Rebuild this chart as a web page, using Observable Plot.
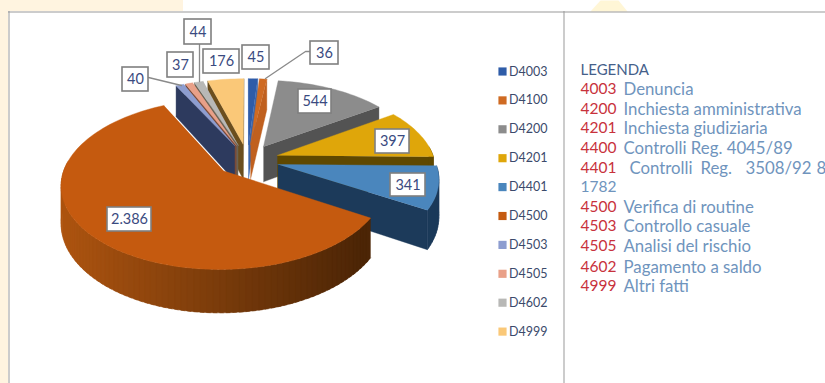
<!DOCTYPE html>
<html><head><meta charset="utf-8">
<style>html,body{margin:0;padding:0;background:#fff;overflow:hidden}svg{display:block}</style>
<script src="https://cdn.jsdelivr.net/npm/d3@7"></script>
<script src="https://cdn.jsdelivr.net/npm/@observablehq/plot@0.6"></script>
</head><body><div id="chart"></div>
<script>
// Data
const codes  = ["D4003","D4100","D4200","D4201","D4401","D4500","D4503","D4505","D4602","D4999"];
const values = [45,36,544,397,341,2386,40,37,44,176];
const topColors  = ["#2f5ca8","#cf6a22","#8c8c8c","#dfa60a","#4a86bd","#c55a0f","#8d9dd0","#e9a088","#b8b8b6","#fac878"];
const wallColors = ["#3a66ad","#c0601f","#535353","#5f4800","#1c3a5a","#8a4409","#2d3a5e","#7a4a38","#6b6355","#6b4e1e"];
// label boxes [x1,y1,x2,y2], moved by hand in the original
const labelBoxes = [[242,45,269,69],[310,41,338,64],[298,89,331,113],[375,129,409,153],[390,173,425,196],
  [107,207,151,231],[122,67,148,91],[167,52,193,77],[184,19,211,44],[203,49,239,73]];
const leaders = [
  {id:"40",pts:[[148,77],[181,85]]},
  {id:"44",pts:[[199,44],[199,81]]},
  {id:"36",pts:[[310,51],[305,51],[265,78]]}
];
const legendHeader = "LEGENDA";
const legendCodes = ["4003","4200","4201","4400","4401","4500","4503","4505","4602","4999"];
const legendTexts = ["Denuncia","Inchiesta amministrativa","Inchiesta giudiziaria","Controlli Reg. 4045/89","",
  "Verifica di routine","Controllo casuale","Analisi del rischio","Pagamento a saldo","Altri fatti"];
const legendY = [89,109,128,148,168,207,226,246,267,286];
const justifiedWords = [["Controlli",629],["Reg.",700],["3508/92",745],["8",816]];
const wrappedLine = "1782";

// Pie geometry (values -> angles -> perspective projection)
const cx=247, cy=159.5, A=157, B=80, k=0.15, depth=36, explode=0.2;
const total = d3.sum(values);
const rad = d=>d*Math.PI/180;
const proj = (X,Y,z)=>{const den=1+k*Y; return [cx+A*X/den, cy-B*Y/den+depth*z/den];};
let cum=0;
const slices = values.map((v,i)=>{
  const a0=cum/total*360; cum+=v; const a1=cum/total*360; const m=rad((a0+a1)/2);
  return {i,a0,a1,ox:explode*Math.sin(m),oy:explode*Math.cos(m),order:Math.cos(m)};
});
const faces=[]; let fid=0;
const addFace=(pts,color)=>{const id=fid++; pts.forEach(p=>faces.push({x:p[0],y:p[1],face:id,color}));};
const shade=d3.interpolateRgb("#ad5410","#4c2506");
[...slices].sort((a,b)=>b.order-a.order).forEach(s=>{
  const P=(deg,z,r=1)=>proj(s.ox+r*Math.sin(rad(deg)),s.oy+r*Math.cos(rad(deg)),z);
  const apex0=P(0,0,0), apex1=P(0,1,0), color=wallColors[s.i];
  // radial walls
  const o0=P(s.a0,0), o1=P(s.a1,0);
  if(o0[0]<apex0[0]) addFace([apex0,o0,P(s.a0,1),apex1],color);
  if(o1[0]>apex0[0]) addFace([apex0,o1,P(s.a1,1),apex1],color);
  // outer wall, front-facing part only; drawn from the far end so each strip overlaps the last
  const n=Math.max(2,Math.ceil((s.a1-s.a0)/2));
  for(let j=n-1;j>=0;j--){
    const b0=s.a0+(s.a1-s.a0)*j/n,b1=s.a0+(s.a1-s.a0)*(j+1)/n,mid=(b0+b1)/2;
    if(Math.cos(rad(mid))<0.12){
      const c = s.i===5 ? shade(Math.min(1,Math.max(0,((P(mid,0)[0]-64)/300)))) : color;
      const b2=Math.min(s.a1,b1+1.2);
      addFace([P(b0,0),P(b1,0),P(b2,0),P(b2,1),P(b1,1),P(b0,1)],c);
    }
  }
  // top
  const top=[apex0]; for(let j=0;j<=n;j++) top.push(P(s.a0+(s.a1-s.a0)*j/n,0));
  addFace(top,topColors[s.i]);
});

const fmt=d3.formatLocale({decimal:",",thousands:".",grouping:[3],currency:["",""]}).format(",");
const boxes=values.map((v,i)=>({x1:labelBoxes[i][0],y1:labelBoxes[i][1],x2:labelBoxes[i][2],y2:labelBoxes[i][3],t:fmt(v)}));
const leaderPts=leaders.flatMap(l=>l.pts.map(p=>({id:l.id,x:p[0],y:p[1]})));
const legendRows=codes.map((c,i)=>({c,color:topColors[i],y:71+i*28.9}));
const right=legendCodes.map((c,i)=>({c,t:legendTexts[i],y:legendY[i]}));
const FONT="Lato";
const cream="#fff4e0";
const bgRects=[{x1:0,x2:8,y1:0,y2:383,f:cream},{x1:0,x2:183,y1:0,y2:11,f:cream}];

const plot=Plot.plot({
  width:825,height:383,margin:0,
  x:{domain:[0,825],range:[0,825],axis:null},
  y:{domain:[0,383],range:[0,383],axis:null},
  style:{fontFamily:FONT,background:"#fff"},
  marks:[
    Plot.rect(bgRects,{x1:"x1",x2:"x2",y1:"y1",y2:"y2",fill:"f"}),
    Plot.line([[600,0],[618,0],[627,11],[590,11]].map(p=>({x:p[0],y:p[1]})),{x:"x",y:"y",fill:"#fff6d6",stroke:"none"}),
    Plot.ruleY([11.5],{x1:8,x2:825,stroke:"#999",strokeWidth:1}),
    Plot.ruleX([8.5],{y1:11,y2:383,stroke:"#999",strokeWidth:1}),
    Plot.ruleX([563.5],{y1:11,y2:383,stroke:"#999",strokeWidth:1}),
    Plot.line(faces,{x:"x",y:"y",z:"face",fill:"color",stroke:"color",strokeWidth:0.4,strokeLinejoin:"round"}),
    Plot.line(leaderPts,{x:"x",y:"y",z:"id",stroke:"#8a8a8a",strokeWidth:1.3}),
    Plot.rect(boxes,{x1:"x1",x2:"x2",y1:"y1",y2:"y2",fill:"#fff",stroke:"#7f7f7f",strokeWidth:1.6}),
    Plot.text(boxes,{x:d=>(d.x1+d.x2)/2,y:d=>(d.y1+d.y2)/2,text:"t",fill:"#3a4a80",fontSize:14.5}),
    // series legend
    Plot.dot(legendRows,{x:()=>502,y:"y",symbol:"square",r:4.6,fill:"color"}),
    Plot.text(legendRows,{x:()=>508.5,y:"y",text:"c",textAnchor:"start",fill:"#3b4a6b",fontSize:12.5}),
    // code legend
    Plot.text([legendHeader],{x:()=>580,y:()=>69.5,text:d=>d,textAnchor:"start",fill:"#45608a",fontSize:15}),
    Plot.text(right,{x:()=>580,y:"y",text:"c",textAnchor:"start",fill:"#c8323c",fontSize:15.5}),
    Plot.text(right,{x:()=>623,y:"y",text:"t",textAnchor:"start",fill:"#6f94bd",fontSize:16.8}),
    Plot.text(justifiedWords,{x:d=>d[1],y:()=>168,text:d=>d[0],textAnchor:"start",fill:"#6f94bd",fontSize:16.8}),
    Plot.text([wrappedLine],{x:()=>580,y:()=>187,text:d=>d,textAnchor:"start",fill:"#6f94bd",fontSize:15.5})
  ]
});
document.getElementById("chart").append(plot);
</script></body></html>
